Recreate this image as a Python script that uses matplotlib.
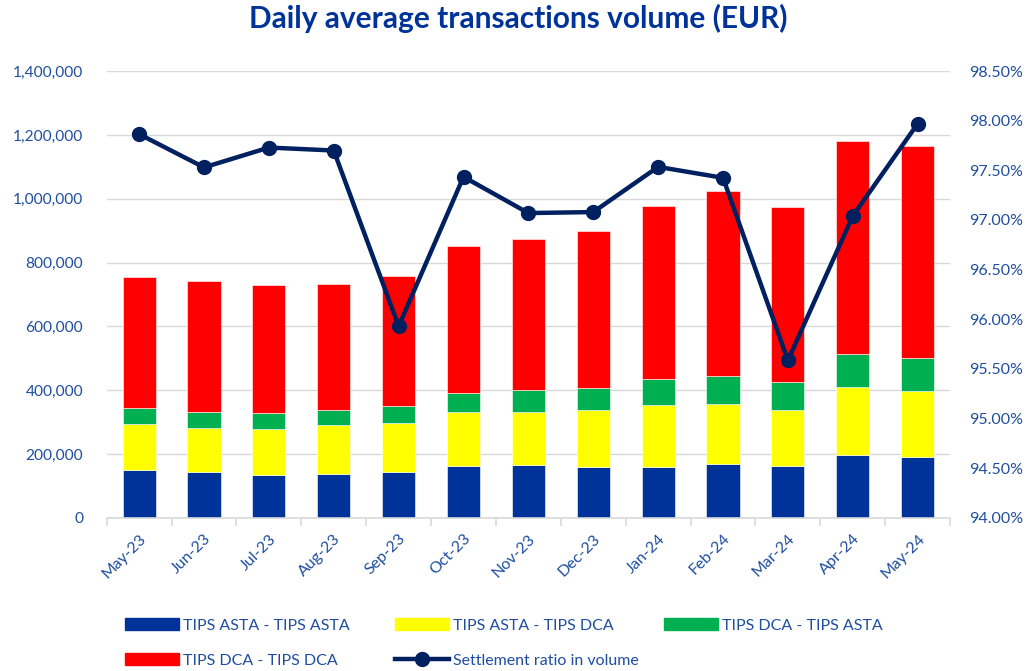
import numpy as np
import matplotlib
matplotlib.use("Agg")
import matplotlib.pyplot as plt
from matplotlib.patches import Patch
from matplotlib.lines import Line2D
from matplotlib.ticker import FuncFormatter, MultipleLocator

plt.rcParams['font.family'] = ['Lato', 'DejaVu Sans']

months = ["May-23", "Jun-23", "Jul-23", "Aug-23", "Sep-23", "Oct-23", "Nov-23",
          "Dec-23", "Jan-24", "Feb-24", "Mar-24", "Apr-24", "May-24"]

# daily average volume per segment (EUR)
asta_asta = [149000, 143000, 134000, 137500, 143000, 161500, 165600,
             159000, 159000, 168000, 161500, 198000, 190600]
asta_dca = [145000, 139500, 145000, 152500, 154000, 168500, 167400,
            177500, 195000, 190000, 177500, 210400, 206400]
dca_asta = [50000, 50500, 50000, 49000, 53000, 60600, 66000,
            71000, 81600, 85700, 85000, 104000, 104000]
dca_dca = [411000, 409000, 401000, 394000, 407000, 462400, 476000,
           491500, 540400, 579300, 551000, 670000, 663000]

# settlement ratio in volume (%)
ratio = [97.865, 97.53, 97.73, 97.70, 95.93, 97.435, 97.07,
         97.08, 97.535, 97.425, 95.585, 97.04, 97.97]

C_BLUE = "#003399"
C_YELLOW = "#FFFF00"
C_GREEN = "#00B050"
C_RED = "#FF0000"
C_LINE = "#002060"
C_TEXT = "#1F4E9F"
C_GRID = "#D9D9D9"

fig = plt.figure(figsize=(10.26, 6.71), dpi=100)
ax = fig.add_axes([0.104, 0.2284, 0.822, 0.6656])

x = np.arange(len(months))
w = 0.51
series = [(asta_asta, C_BLUE), (asta_dca, C_YELLOW), (dca_asta, C_GREEN), (dca_dca, C_RED)]
bottom = np.zeros(len(months))
for vals, col in series:
    ax.bar(x, vals, w, bottom=bottom, color=col, edgecolor="white", linewidth=0.4, zorder=2)
    bottom += np.array(vals)

ax.set_xlim(-0.5, len(months) - 0.5)
ax.set_ylim(0, 1400000)
ax.yaxis.set_major_locator(MultipleLocator(200000))
ax.yaxis.set_major_formatter(FuncFormatter(lambda v, p: f"{int(v):,}"))
ax.grid(axis="y", color=C_GRID, linewidth=1, zorder=0)
ax.set_axisbelow(True)

for s in ["top", "left", "right"]:
    ax.spines[s].set_visible(False)
ax.spines["bottom"].set_color(C_GRID)
ax.spines["bottom"].set_linewidth(1.2)

ax.set_xticks(x)
ax.set_xticklabels(months, rotation=45, ha="right", rotation_mode="anchor")
ax.tick_params(axis="x", length=0, colors=C_TEXT, labelsize=11.5, pad=10)
ax.set_xticks(np.arange(-0.5, len(months)), minor=True)
ax.tick_params(axis="x", which="minor", length=6, color=C_GRID, width=1.2)
ax.tick_params(axis="y", length=0, colors=C_TEXT, labelsize=11.2, pad=17)

ax2 = ax.twinx()
ax2.plot(x, ratio, color=C_LINE, linewidth=3.2, marker="o", markersize=10, zorder=3)
ax2.set_ylim(94.0, 98.5)
ax2.yaxis.set_major_locator(MultipleLocator(0.5))
ax2.yaxis.set_major_formatter(FuncFormatter(lambda v, p: f"{v:.2f}%"))
ax2.tick_params(axis="y", length=0, colors=C_TEXT, labelsize=11.5, pad=14)
for s in ["top", "left", "right", "bottom"]:
    ax2.spines[s].set_visible(False)

fig.text(0.5055, 0.972, "Daily average transactions volume (EUR)", ha="center", va="center",
         fontsize=21.5, fontweight="bold", color=C_BLUE)

labels = ["TIPS ASTA - TIPS ASTA", "TIPS ASTA - TIPS DCA", "TIPS DCA - TIPS ASTA",
          "TIPS DCA - TIPS DCA", "Settlement ratio in volume"]
handles = [Patch(color=C_BLUE), Patch(color=C_YELLOW), Patch(color=C_GREEN), Patch(color=C_RED),
           Line2D([], [], color=C_LINE, linewidth=3.2, marker="o", markersize=10)]
spots = [(0.122, 0.068), (0.385, 0.068), (0.647, 0.068), (0.122, 0.016), (0.385, 0.016)]
for h, lab, (lx, ly) in zip(handles, labels, spots):
    lg = fig.legend([h], [lab], loc="center left", bbox_to_anchor=(lx, ly), frameon=False,
                    fontsize=11.5, handlelength=3.4, handleheight=0.8, handletextpad=0.25,
                    borderpad=0, borderaxespad=0)
    for t in lg.get_texts():
        t.set_color(C_TEXT)

fig.savefig("out.png", dpi=100)
